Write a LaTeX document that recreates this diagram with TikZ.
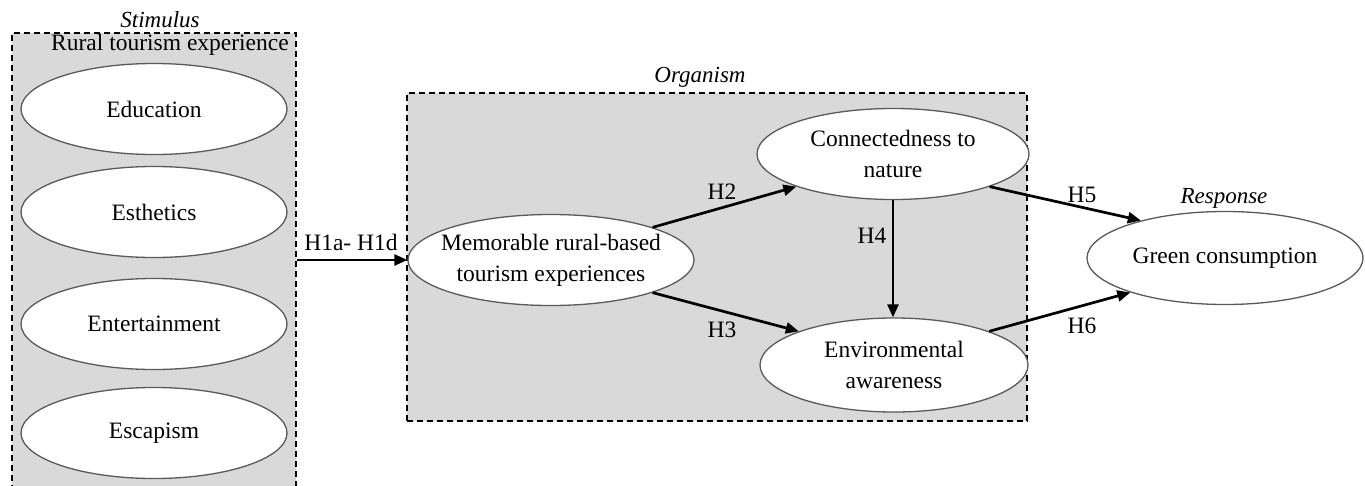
\documentclass[tikz,border=0pt]{standalone}
\usepackage{fontspec}
\setmainfont{Liberation Serif}
\usetikzlibrary{shapes.geometric,arrows.meta}
\definecolor{boxgrey}{RGB}{217,217,217}
\definecolor{ellgrey}{RGB}{90,90,90}
\newcommand{\ctrline}[1]{\makebox[0pt]{#1}}
\tikzset{
  groupbox/.style={draw=black, fill=boxgrey, line width=1.4pt, dash pattern=on 6pt off 4pt, rectangle, inner sep=0pt},
  construct/.style={ellipse, draw=ellgrey, fill=white, line width=1.3pt, inner sep=0pt, align=center, font=\fontsize{23.5}{31}\selectfont},
  lbl/.style={inner sep=0pt, font=\fontsize{23.5}{28}\selectfont},
  title/.style={inner sep=0pt, font=\fontsize{23}{28}\selectfont\itshape},
  path/.style={line width=2.7pt, -{Triangle[length=13pt,width=11pt]}}
}
\begin{document}
\begin{tikzpicture}[x=1pt,y=-1pt]
\useasboundingbox (0,0) rectangle (1365,485);
\clip (0,0) rectangle (1365,485);
\fill[white] (0,0) rectangle (1365,485);
% groups
\node[groupbox, minimum width=284pt, minimum height=470pt] (stim) at (154,268) {};
\node[groupbox, minimum width=620pt, minimum height=328pt] (org) at (717,257) {};
% titles
\node[title] (tstim) at (160,20) {Stimulus};
\node[lbl] (trural) at (170,45) {Rural tourism experience};
\node[title] (torg) at (700,77) {Organism};
\node[title] (tresp) at (1224,198) {Response};
% stimulus dimensions
\node[construct, minimum width=266pt, minimum height=91pt] (edu) at (154,109) {Education};
\node[construct, minimum width=266pt, minimum height=91pt] (est) at (154,212) {Esthetics};
\node[construct, minimum width=266pt, minimum height=91pt] (ent) at (154,324) {Entertainment};
\node[construct, minimum width=266pt, minimum height=91pt] (esc) at (154,433) {Escapism};
% organism
\node[construct, minimum width=286pt, minimum height=91pt] (mem) at (551,260) {\ctrline{Memorable rural-based}\\\ctrline{tourism experiences}};
\node[construct, minimum width=272pt, minimum height=91pt] (conn) at (893,154) {\ctrline{Connectedness to}\\\ctrline{nature}};
\node[construct, minimum width=268pt, minimum height=94pt] (env) at (894,365) {\ctrline{Environmental}\\\ctrline{awareness}};
% response
\node[construct, minimum width=276pt, minimum height=93pt] (green) at (1225,258) {Green consumption};
% paths
\draw[path] (stim.east |- mem.west) -- (mem.west);
\draw[path] (mem.north east) -- (conn.south west);
\draw[path] (mem.south east) -- (env.north west);
\draw[path] (conn.south) -- (conn.south |- env.north);
\draw[path] (conn.south east) -- (green.156);
\draw[path] (env.north east) -- (green.200);
% labels
\node[lbl] (h1) at (351,242) {H1a- H1d};
\node[lbl] (h2) at (722,192) {H2};
\node[lbl] (h3) at (722,330) {H3};
\node[lbl] (h4) at (872,236) {H4};
\node[lbl] (h5) at (1082,195) {H5};
\node[lbl] (h6) at (1082,326) {H6};
\end{tikzpicture}
\end{document}
